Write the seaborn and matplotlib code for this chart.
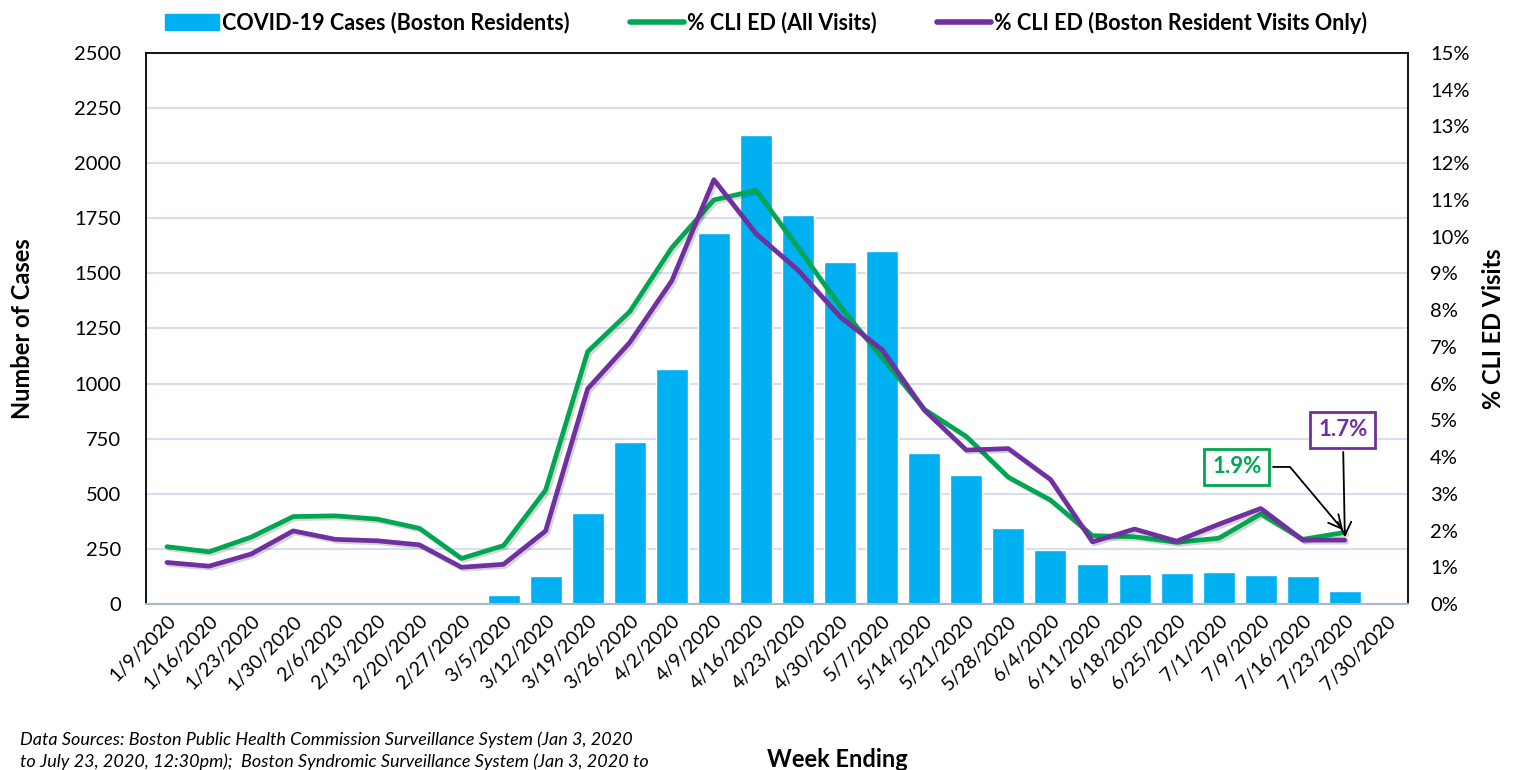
import matplotlib
matplotlib.use("Agg")
import matplotlib.pyplot as plt
import matplotlib.patheffects as pe
from matplotlib.patches import Patch
from matplotlib.lines import Line2D
from matplotlib.ticker import FixedLocator, FuncFormatter
import seaborn as sns
import pandas as pd
import numpy as np

weeks = ['1/9/2020', '1/16/2020', '1/23/2020', '1/30/2020', '2/6/2020', '2/13/2020',
         '2/20/2020', '2/27/2020', '3/5/2020', '3/12/2020', '3/19/2020', '3/26/2020',
         '4/2/2020', '4/9/2020', '4/16/2020', '4/23/2020', '4/30/2020', '5/7/2020',
         '5/14/2020', '5/21/2020', '5/28/2020', '6/4/2020', '6/11/2020', '6/18/2020',
         '6/25/2020', '7/1/2020', '7/9/2020', '7/16/2020', '7/23/2020', '7/30/2020']

# weekly COVID-19 cases, Boston residents
cases = [0, 0, 0, 0, 0, 0, 0, 0, 40, 125, 413, 735, 1066, 1685, 2128, 1765, 1552, 1601,
         685, 587, 344, 245, 181, 138, 140, 145, 131, 125, 59, 0]

# % CLI ED visits (no value for the last week)
cli_all = [1.56, 1.42, 1.82, 2.38, 2.40, 2.31, 2.06, 1.24, 1.59, 3.10, 6.87, 7.96, 9.70,
           11.0, 11.26, 9.70, 8.10, 6.70, 5.30, 4.56, 3.45, 2.83, 1.86, 1.83, 1.68, 1.79,
           2.45, 1.76, 1.95]
cli_boston = [1.13, 1.03, 1.36, 1.99, 1.76, 1.72, 1.61, 1.00, 1.08, 1.99, 5.86, 7.12, 8.80,
              11.55, 10.08, 9.09, 7.82, 6.92, 5.28, 4.19, 4.23, 3.39, 1.69, 2.04, 1.71, 2.17,
              2.60, 1.74, 1.74]

BLUE = '#00B0F0'
GREEN = '#00A651'
PURPLE = '#7030A0'
GRID = '#D5DFF0'

sns.set_theme(style='white')
plt.rcParams['font.family'] = ['Lato', 'DejaVu Sans']
plt.rcParams['text.color'] = 'black'
plt.rcParams['xtick.color'] = 'black'
plt.rcParams['ytick.color'] = 'black'
plt.rcParams['axes.labelcolor'] = 'black'

fig = plt.figure(figsize=(15.14, 7.7), dpi=100)
ax = fig.add_axes([0.0964, 0.2156, 0.8336, 0.7156])

df = pd.DataFrame({'week': weeks, 'cases': cases})
sns.barplot(data=df, x='week', y='cases', color=BLUE, saturation=1, width=0.76, ax=ax)

ax.set_ylim(0, 2500)
ax.set_yticks(np.arange(0, 2501, 250))
ax.set_xlim(-0.5, len(weeks) - 0.5)
ax.yaxis.grid(True, color=GRID, lw=1.5)
ax.set_axisbelow(True)
ax.tick_params(axis='y', labelsize=14.5, length=0, pad=18)
ax.tick_params(axis='x', which='major', length=0, labelsize=14, pad=6)
ax.set_xticks(range(len(weeks)))
ax.set_xticklabels(weeks, rotation=45, ha='right', rotation_mode='anchor')
ax.xaxis.set_minor_locator(FixedLocator(np.arange(-0.5, len(weeks), 1)))
ax.tick_params(axis='x', which='minor', length=5, color='#A9B8CC', width=1.2)
ax.set_xlabel('')
ax.set_ylabel('Number of Cases', fontsize=17, fontweight='bold')
ax.yaxis.set_label_coords(-0.089, 0.5)

for s in ['left', 'top', 'right']:
    ax.spines[s].set_color('black')
    ax.spines[s].set_linewidth(1.3)
ax.spines['bottom'].set_color('#A9B8CC')
ax.spines['bottom'].set_linewidth(1.5)

shadow = [pe.SimpleLineShadow(offset=(1.5, -1.5), alpha=0.18), pe.Normal()]
ax2 = ax.twinx()
ldf = pd.DataFrame({'x': np.arange(len(cli_all)), 'all': cli_all, 'boston': cli_boston})
sns.lineplot(data=ldf, x='x', y='all', color=GREEN, lw=3.4, ax=ax2, path_effects=shadow)
sns.lineplot(data=ldf, x='x', y='boston', color=PURPLE, lw=3.4, ax=ax2, path_effects=shadow)
ax2.set_ylim(0, 15)
ax2.set_xlim(-0.5, len(weeks) - 0.5)
ax2.set_yticks(range(0, 16))
ax2.yaxis.set_major_formatter(FuncFormatter(lambda v, p: f'{v:.0f}%'))
ax2.tick_params(axis='y', labelsize=14.5, length=0, pad=16)
ax2.set_ylabel('% CLI ED Visits', fontsize=17, fontweight='bold')
ax2.yaxis.set_label_coords(1.059, 0.5)
ax2.set_xlabel('')
ax2.grid(False)
for s in ax2.spines.values():
    s.set_visible(False)

ax2.annotate('1.9%', xy=(28, cli_all[28]), xytext=(25.43, 3.73),
             color=GREEN, fontsize=16, fontweight='bold', ha='center', va='center',
             bbox=dict(boxstyle='square,pad=0.35', fc='white', ec=GREEN, lw=2),
             arrowprops=dict(arrowstyle='->', color='black', lw=1.3, mutation_scale=24,
                             connectionstyle='angle,angleA=0,angleB=-50,rad=0'))
ax2.annotate('1.7%', xy=(28, cli_boston[28]), xytext=(27.95, 4.74),
             color=PURPLE, fontsize=16, fontweight='bold', ha='center', va='center',
             bbox=dict(boxstyle='square,pad=0.35', fc='white', ec=PURPLE, lw=2),
             arrowprops=dict(arrowstyle='->', color='black', lw=1.3, mutation_scale=24))

handles = [Patch(color=BLUE), Line2D([0], [0], color=GREEN, lw=4),
           Line2D([0], [0], color=PURPLE, lw=4)]
labels = ['COVID-19 Cases (Boston Residents)', '% CLI ED (All Visits)',
          '% CLI ED (Boston Resident Visits Only)']
fig.legend(handles, labels, loc='upper center', bbox_to_anchor=(0.506, 1.01), ncol=3,
           frameon=False, prop={'size': 15.5, 'weight': 'bold'}, handlelength=2.5,
           handleheight=0.8, columnspacing=2.8, handletextpad=0.15)

fig.text(0.553, 0.004, 'Week Ending', fontsize=17, fontweight='bold', ha='center')
fig.text(0.013, 0.0, 'Data Sources: Boston Public Health Commission Surveillance System (Jan 3, 2020\n'
         'to July 23, 2020, 12:30pm);  Boston Syndromic Surveillance System (Jan 3, 2020 to',
         fontsize=13, style='italic', ha='left', va='bottom', linespacing=1.4)

fig.savefig('out.png', dpi=100)
